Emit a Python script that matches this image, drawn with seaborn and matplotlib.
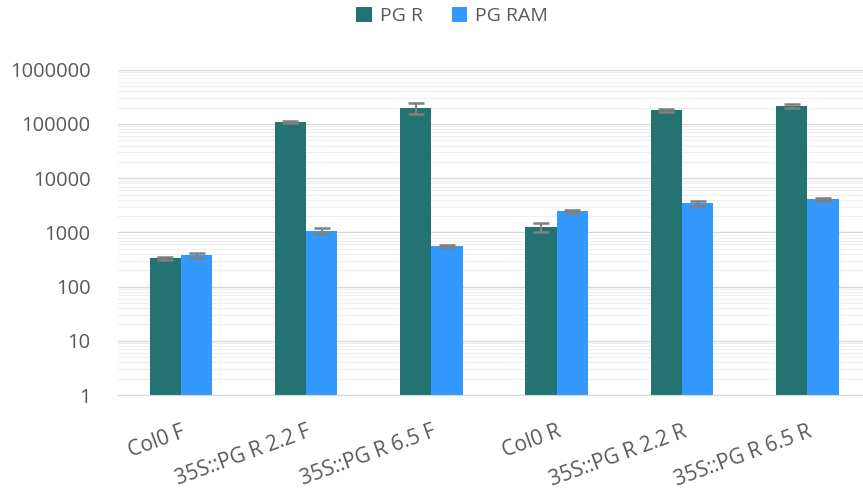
import matplotlib
matplotlib.use("Agg")
import matplotlib.pyplot as plt
import numpy as np
import pandas as pd
import seaborn as sns

categories = ["Col0 F", "35S::PG R 2.2 F", "35S::PG R 6.5 F",
              "Col0 R", "35S::PG R 2.2 R", "35S::PG R 6.5 R"]
series = ["PG R", "PG RAM"]
pg_r = [335, 109000, 198000, 1270, 178000, 215000]
pg_r_err = [20, 5000, 42000, 250, 14000, 15000]
pg_ram = [380, 1070, 560, 2470, 3440, 4050]
pg_ram_err = [40, 130, 30, 150, 400, 250]
colors = ["#237373", "#3399FF"]

df = pd.DataFrame({
    "category": categories * 2,
    "series": [series[0]] * len(categories) + [series[1]] * len(categories),
    "value": pg_r + pg_ram,
})

sns.set_style("white")
plt.rcParams["font.family"] = ["Open Sans", "DejaVu Sans"]

fig = plt.figure(figsize=(8.63, 4.95), dpi=100)
ax = fig.add_axes([0.137, 0.202, 0.871, 0.657])

sns.barplot(data=df, x="category", y="value", hue="series", order=categories,
            hue_order=series, palette=colors, width=0.5, errorbar=None,
            saturation=1, ax=ax, zorder=2, edgecolor="none")
ax.set_yscale("log")
ax.set_ylim(1, 1e6)
ax.set_xlim(-0.5, len(categories) - 0.5)

# error bars on top of each bar
for cont, errs in zip(ax.containers, [pg_r_err, pg_ram_err]):
    xs = [p.get_x() + p.get_width() / 2 for p in cont.patches]
    ys = [p.get_height() for p in cont.patches]
    ax.errorbar(xs, ys, yerr=errs, fmt="none", ecolor="#808080", elinewidth=1.5,
                capsize=6, capthick=1.8, zorder=3)

ax.set_yticks([1, 10, 100, 1000, 10000, 100000, 1000000])
ax.set_yticklabels(["1", "10", "100", "1000", "10000", "100000", "1000000"])
ax.yaxis.grid(True, which="major", color="#d9d9d9", linewidth=1, zorder=0)
ax.yaxis.grid(True, which="minor", color="#efefef", linewidth=0.8, zorder=0)
ax.set_axisbelow(True)
for s in ["top", "right", "left"]:
    ax.spines[s].set_visible(False)
ax.spines["bottom"].set_color("#d9d9d9")
ax.tick_params(axis="both", which="both", length=0, colors="#595959")
ax.tick_params(axis="y", labelsize=14.5, pad=20)
ax.tick_params(axis="x", labelsize=15, pad=19)
plt.setp(ax.get_xticklabels(), rotation=20, ha="right", rotation_mode="anchor")
ax.set_xlabel("")
ax.set_ylabel("")

ax.legend(loc="center", bbox_to_anchor=(0.524, 0.968), bbox_transform=fig.transFigure,
          ncol=2, frameon=False, fontsize=14, handlelength=0.8, handleheight=0.8,
          labelcolor="#595959", columnspacing=1.5, handletextpad=0.4)

fig.savefig("out.png", dpi=100)
